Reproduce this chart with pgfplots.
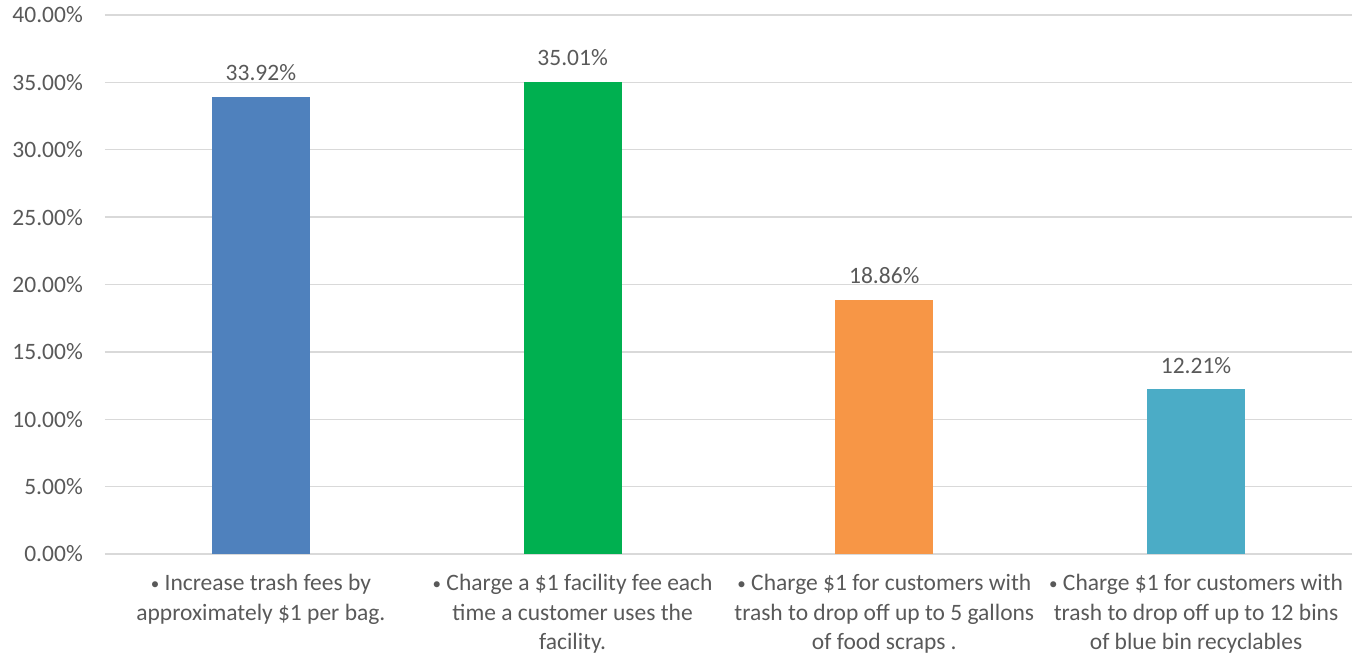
\documentclass[border=0pt]{standalone}
\usepackage{pgfplots}
\pgfplotsset{compat=1.18}
\usepackage{fontspec}
\setmainfont{Carlito}
\definecolor{txt}{HTML}{595959}
\definecolor{grid}{HTML}{D9D9D9}
\definecolor{cblue}{HTML}{4F81BD}
\definecolor{cgreen}{HTML}{00B050}
\definecolor{corange}{HTML}{F79646}
\definecolor{cteal}{HTML}{4BACC6}
\newcommand{\bul}{{\fontsize{17}{30}\selectfont\raisebox{1pt}{\textbullet}}}
\begin{document}
\begin{tikzpicture}
\path[use as bounding box] (-105pt,-101pt) rectangle (1248pt,554pt);
\begin{axis}[
  at={(0,0)}, anchor=south west,
  scale only axis, width=1247pt, height=539pt,
  xmin=-0.5, xmax=3.5, ymin=0, ymax=40,
  ybar, bar width=98pt, bar shift=0pt,
  axis line style={draw=none},
  xtick={0,1,2,3},
  xticklabels={{\bul{} Increase trash fees by\\approximately \$1 per bag.},
               {\bul{} Charge a \$1 facility fee each\\time a customer uses the\\facility.},
               {\bul{} Charge \$1 for customers with\\trash to drop off up to 5 gallons\\of food scraps .},
               {\bul{} Charge \$1 for customers with\\trash to drop off up to 12 bins\\of blue bin recyclables}},
  xticklabel style={align=center, anchor=north, inner sep=0pt, yshift=-20pt,
     font=\fontsize{23.5}{29.5}\selectfont, text=txt},
  major tick length=0pt,
  ytick={0,5,...,40},
  yticklabels={0.00\%,5.00\%,10.00\%,15.00\%,20.00\%,25.00\%,30.00\%,35.00\%,40.00\%},
  yticklabel style={anchor=east, inner sep=0pt, xshift=-22pt,
     font=\fontsize{23.5}{30}\selectfont, text=txt},
  ymajorgrids, grid style={draw=grid, line width=1.3pt},
  extra y ticks={0}, extra y tick labels={},
  extra y tick style={grid style={draw=grid, line width=1.6pt}},
  nodes near coords={\pgfmathprintnumber[fixed,fixed zerofill,precision=2]{\pgfplotspointmeta}\%},
  /pgf/number format/assume math mode=true,
  every node near coord/.append style={anchor=south, inner sep=0pt, yshift=16pt,
     font=\fontsize{23.5}{30}\selectfont, text=txt},
  clip=false,
]
\addplot[fill=cblue, draw=none] coordinates {(0,33.92)};
\addplot[fill=cgreen, draw=none] coordinates {(1,35.01)};
\addplot[fill=corange, draw=none] coordinates {(2,18.86)};
\addplot[fill=cteal, draw=none] coordinates {(3,12.21)};
\end{axis}
\end{tikzpicture}
\end{document}
